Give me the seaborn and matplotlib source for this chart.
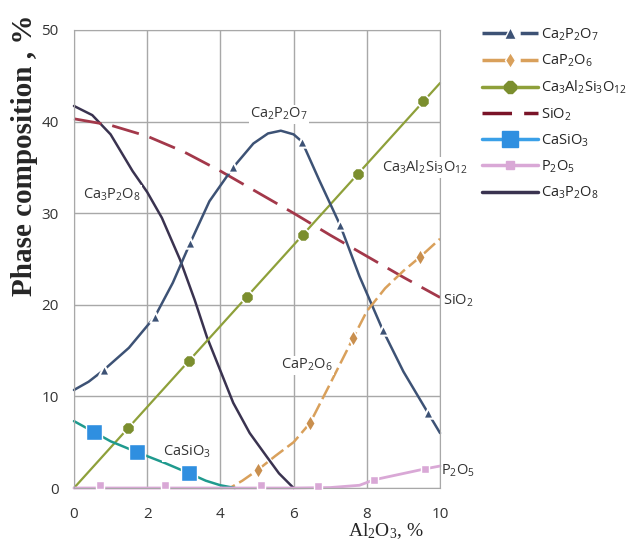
import numpy as np
import pandas as pd
import matplotlib
matplotlib.use("Agg")
import matplotlib.pyplot as plt
from matplotlib.lines import Line2D
import seaborn as sns

# curves
ca2p2o7_x = [0, 0.4, 0.82, 1.5, 2.21, 2.7, 3.17, 3.7, 4.35, 4.9, 5.3, 5.65, 6.0, 6.23, 6.7, 7.27, 7.8, 8.44, 9.0, 9.67, 10]
ca2p2o7_y = [10.7, 11.6, 12.9, 15.3, 18.7, 22.4, 26.7, 31.3, 35.0, 37.6, 38.7, 39.0, 38.6, 37.8, 33.6, 28.7, 23.1, 17.2, 12.7, 8.2, 6.0]
ca2p2o7_mx = [0.82, 2.21, 3.17, 4.35, 6.23, 7.27, 8.44, 9.67]
ca2p2o7_my = [12.9, 18.7, 26.7, 35.0, 37.8, 28.7, 17.2, 8.2]

cap2o6_x = [4.0, 4.3, 4.6, 5.03, 5.5, 6.0, 6.45, 7.0, 7.63, 8.0, 8.5, 9.0, 9.45, 10]
cap2o6_y = [0.0, 0.1, 0.8, 2.0, 3.5, 5.0, 7.1, 11.4, 16.4, 19.3, 21.8, 23.7, 25.2, 27.2]
cap2o6_mx = [5.03, 6.45, 7.63, 9.45]
cap2o6_my = [2.0, 7.1, 16.4, 25.2]

garnet_x = [0, 10]
garnet_y = [0, 44.2]
garnet_mx = [1.48, 3.15, 4.72, 6.25, 7.77, 9.54]
garnet_my = [6.5, 13.9, 20.9, 27.6, 34.3, 42.2]

sio2_x = [0, 1, 2, 3, 4, 5, 6, 7, 8, 9, 10]
sio2_y = [40.3, 39.6, 38.4, 36.7, 34.6, 32.3, 30.0, 27.6, 25.3, 23.0, 20.8]

casio3_x = [0, 0.55, 1.0, 1.73, 2.5, 3.15, 3.6, 4.0, 4.4]
casio3_y = [7.3, 6.1, 5.1, 3.9, 2.7, 1.6, 0.8, 0.3, 0.0]
casio3_mx = [0.55, 1.73, 3.15]
casio3_my = [6.1, 3.9, 1.6]

p2o5_x = [0, 2, 4, 6, 7, 7.8, 8.2, 9.6, 10]
p2o5_y = [0, 0, 0, 0, 0.05, 0.3, 0.9, 2.1, 2.4]
p2o5_mx = [0.7, 2.5, 5.1, 6.67, 8.2, 9.6]
p2o5_my = [0.3, 0.3, 0.3, 0.2, 0.9, 2.1]

ca3p2o8_x = [0, 0.5, 1.0, 1.6, 2.0, 2.4, 2.9, 3.3, 3.63, 4.0, 4.35, 4.8, 5.27, 5.6, 6.0]
ca3p2o8_y = [41.7, 40.7, 38.6, 34.6, 32.3, 29.5, 24.9, 20.5, 16.5, 12.8, 9.3, 6.0, 3.4, 1.6, 0.0]

names = ["Ca$_2$P$_2$O$_7$", "CaP$_2$O$_6$", "Ca$_3$Al$_2$Si$_3$O$_{12}$", "SiO$_2$",
         "CaSiO$_3$", "P$_2$O$_5$", "Ca$_3$P$_2$O$_8$"]

sns.set_style("white")
plt.rcParams["font.family"] = ["Open Sans", "DejaVu Sans"]
plt.rcParams["mathtext.default"] = "regular"

fig = plt.figure(figsize=(6.29, 5.46), dpi=100)
ax = fig.add_axes([0.1176, 0.1062, 0.582, 0.839])

c_blue = "#3d5275"
c_orange = "#d9a05b"
c_olive = "#8ea03a"
c_olive_m = "#7b8e2e"
c_red = "#a3384a"
c_teal = "#1f9a8e"
c_sq = "#2f8fe0"
c_pink = "#d9a8d6"
c_dark = "#3a3350"

sns.lineplot(x=ca3p2o8_x, y=ca3p2o8_y, color=c_dark, lw=1.8, ax=ax)
sns.lineplot(x=sio2_x, y=sio2_y, color=c_red, lw=2, linestyle=(0, (10, 4)), ax=ax)
sns.lineplot(x=garnet_x, y=garnet_y, color=c_olive, lw=1.6, ax=ax)
sns.lineplot(x=ca2p2o7_x, y=ca2p2o7_y, color=c_blue, lw=1.8, ax=ax)
sns.lineplot(x=cap2o6_x, y=cap2o6_y, color=c_orange, lw=1.8, linestyle=(0, (6, 2)), ax=ax)
sns.lineplot(x=casio3_x, y=casio3_y, color=c_teal, lw=1.8, ax=ax)
sns.lineplot(x=p2o5_x, y=p2o5_y, color=c_pink, lw=2, ax=ax)

for l in ax.lines:
    l.set_clip_on(False)

sns.scatterplot(x=ca2p2o7_mx, y=ca2p2o7_my, marker="^", s=55, color=c_blue, edgecolor="white", linewidth=1.5, ax=ax, zorder=5)
sns.scatterplot(x=cap2o6_mx, y=cap2o6_my, marker="d", s=70, color="#c98f4e", edgecolor="white", linewidth=1.2, ax=ax, zorder=5)
sns.scatterplot(x=garnet_mx, y=garnet_my, marker="8", s=90, color=c_olive_m, edgecolor="white", linewidth=1.2, ax=ax, zorder=5)
sns.scatterplot(x=casio3_mx, y=casio3_my, marker="s", s=130, color=c_sq, edgecolor="white", linewidth=1, ax=ax, zorder=5)
sns.scatterplot(x=p2o5_mx, y=p2o5_my, marker="s", s=30, color=c_pink, edgecolor="white", linewidth=1, ax=ax, zorder=5, clip_on=False)

ax.set_xlim(0, 10)
ax.set_ylim(0, 50)
ax.set_xticks(range(0, 11, 2))
ax.set_yticks(range(0, 51, 10))
ax.grid(True, color="#a8a8a8", lw=1)
for s in ax.spines.values():
    s.set_color("#a8a8a8")
ax.tick_params(labelsize=11, colors="#333333", length=0)
ax.tick_params(axis="x", pad=14)
ax.tick_params(axis="y", pad=11)

ax.set_ylabel("Phase composition , %", family="Liberation Serif", fontweight="bold", fontsize=21)
ax.yaxis.set_label_coords(-0.098, 0.727)
ax.set_xlabel("Al$_2$O$_3$, %", family="Liberation Serif", fontsize=14)
ax.xaxis.set_label_coords(0.852, -0.072)

bb = dict(facecolor="white", edgecolor="none", pad=1)
txt = dict(fontsize=10.5, color="#333333", ha="center", va="center", clip_on=False)
ax.text(5.6, 40.8, names[0], bbox=bb, **txt)
ax.text(1.04, 32.0, names[6], bbox=bb, **txt)
ax.text(9.6, 35.0, names[2], bbox=bb, **txt)
ax.text(10.5, 20.4, names[3], **txt)
ax.text(6.37, 13.4, names[1], bbox=bb, **txt)
ax.text(3.09, 3.9, names[4], bbox=bb, **txt)
ax.text(10.5, 1.9, names[5], **txt)

handles = [
    Line2D([], [], color=c_blue, lw=2.5, ls=(0, (7.5, 3.5)), marker="^", ms=8, mec="white", mew=1),
    Line2D([], [], color=c_orange, lw=2.5, ls=(0, (7.5, 3.5)), marker="d", ms=8, mec="white", mew=1),
    Line2D([], [], color=c_olive, lw=2.5, marker="8", ms=9, mfc=c_olive_m, mec=c_olive_m),
    Line2D([], [], color="#7a1428", lw=2.5, ls=(0, (8.5, 3.5))),
    Line2D([], [], color="#3aa0e8", lw=2.5, marker="s", ms=11, mfc=c_sq, mec=c_sq),
    Line2D([], [], color=c_pink, lw=2.5, marker="s", ms=6),
    Line2D([], [], color=c_dark, lw=2.5),
]
ax.legend(handles, names, loc="upper left", bbox_to_anchor=(1.0995, 1.02), frameon=False,
          fontsize=10.5, handlelength=3.8, handletextpad=0.2, labelspacing=0.67, borderaxespad=0)

fig.savefig("out.png", dpi=100)
